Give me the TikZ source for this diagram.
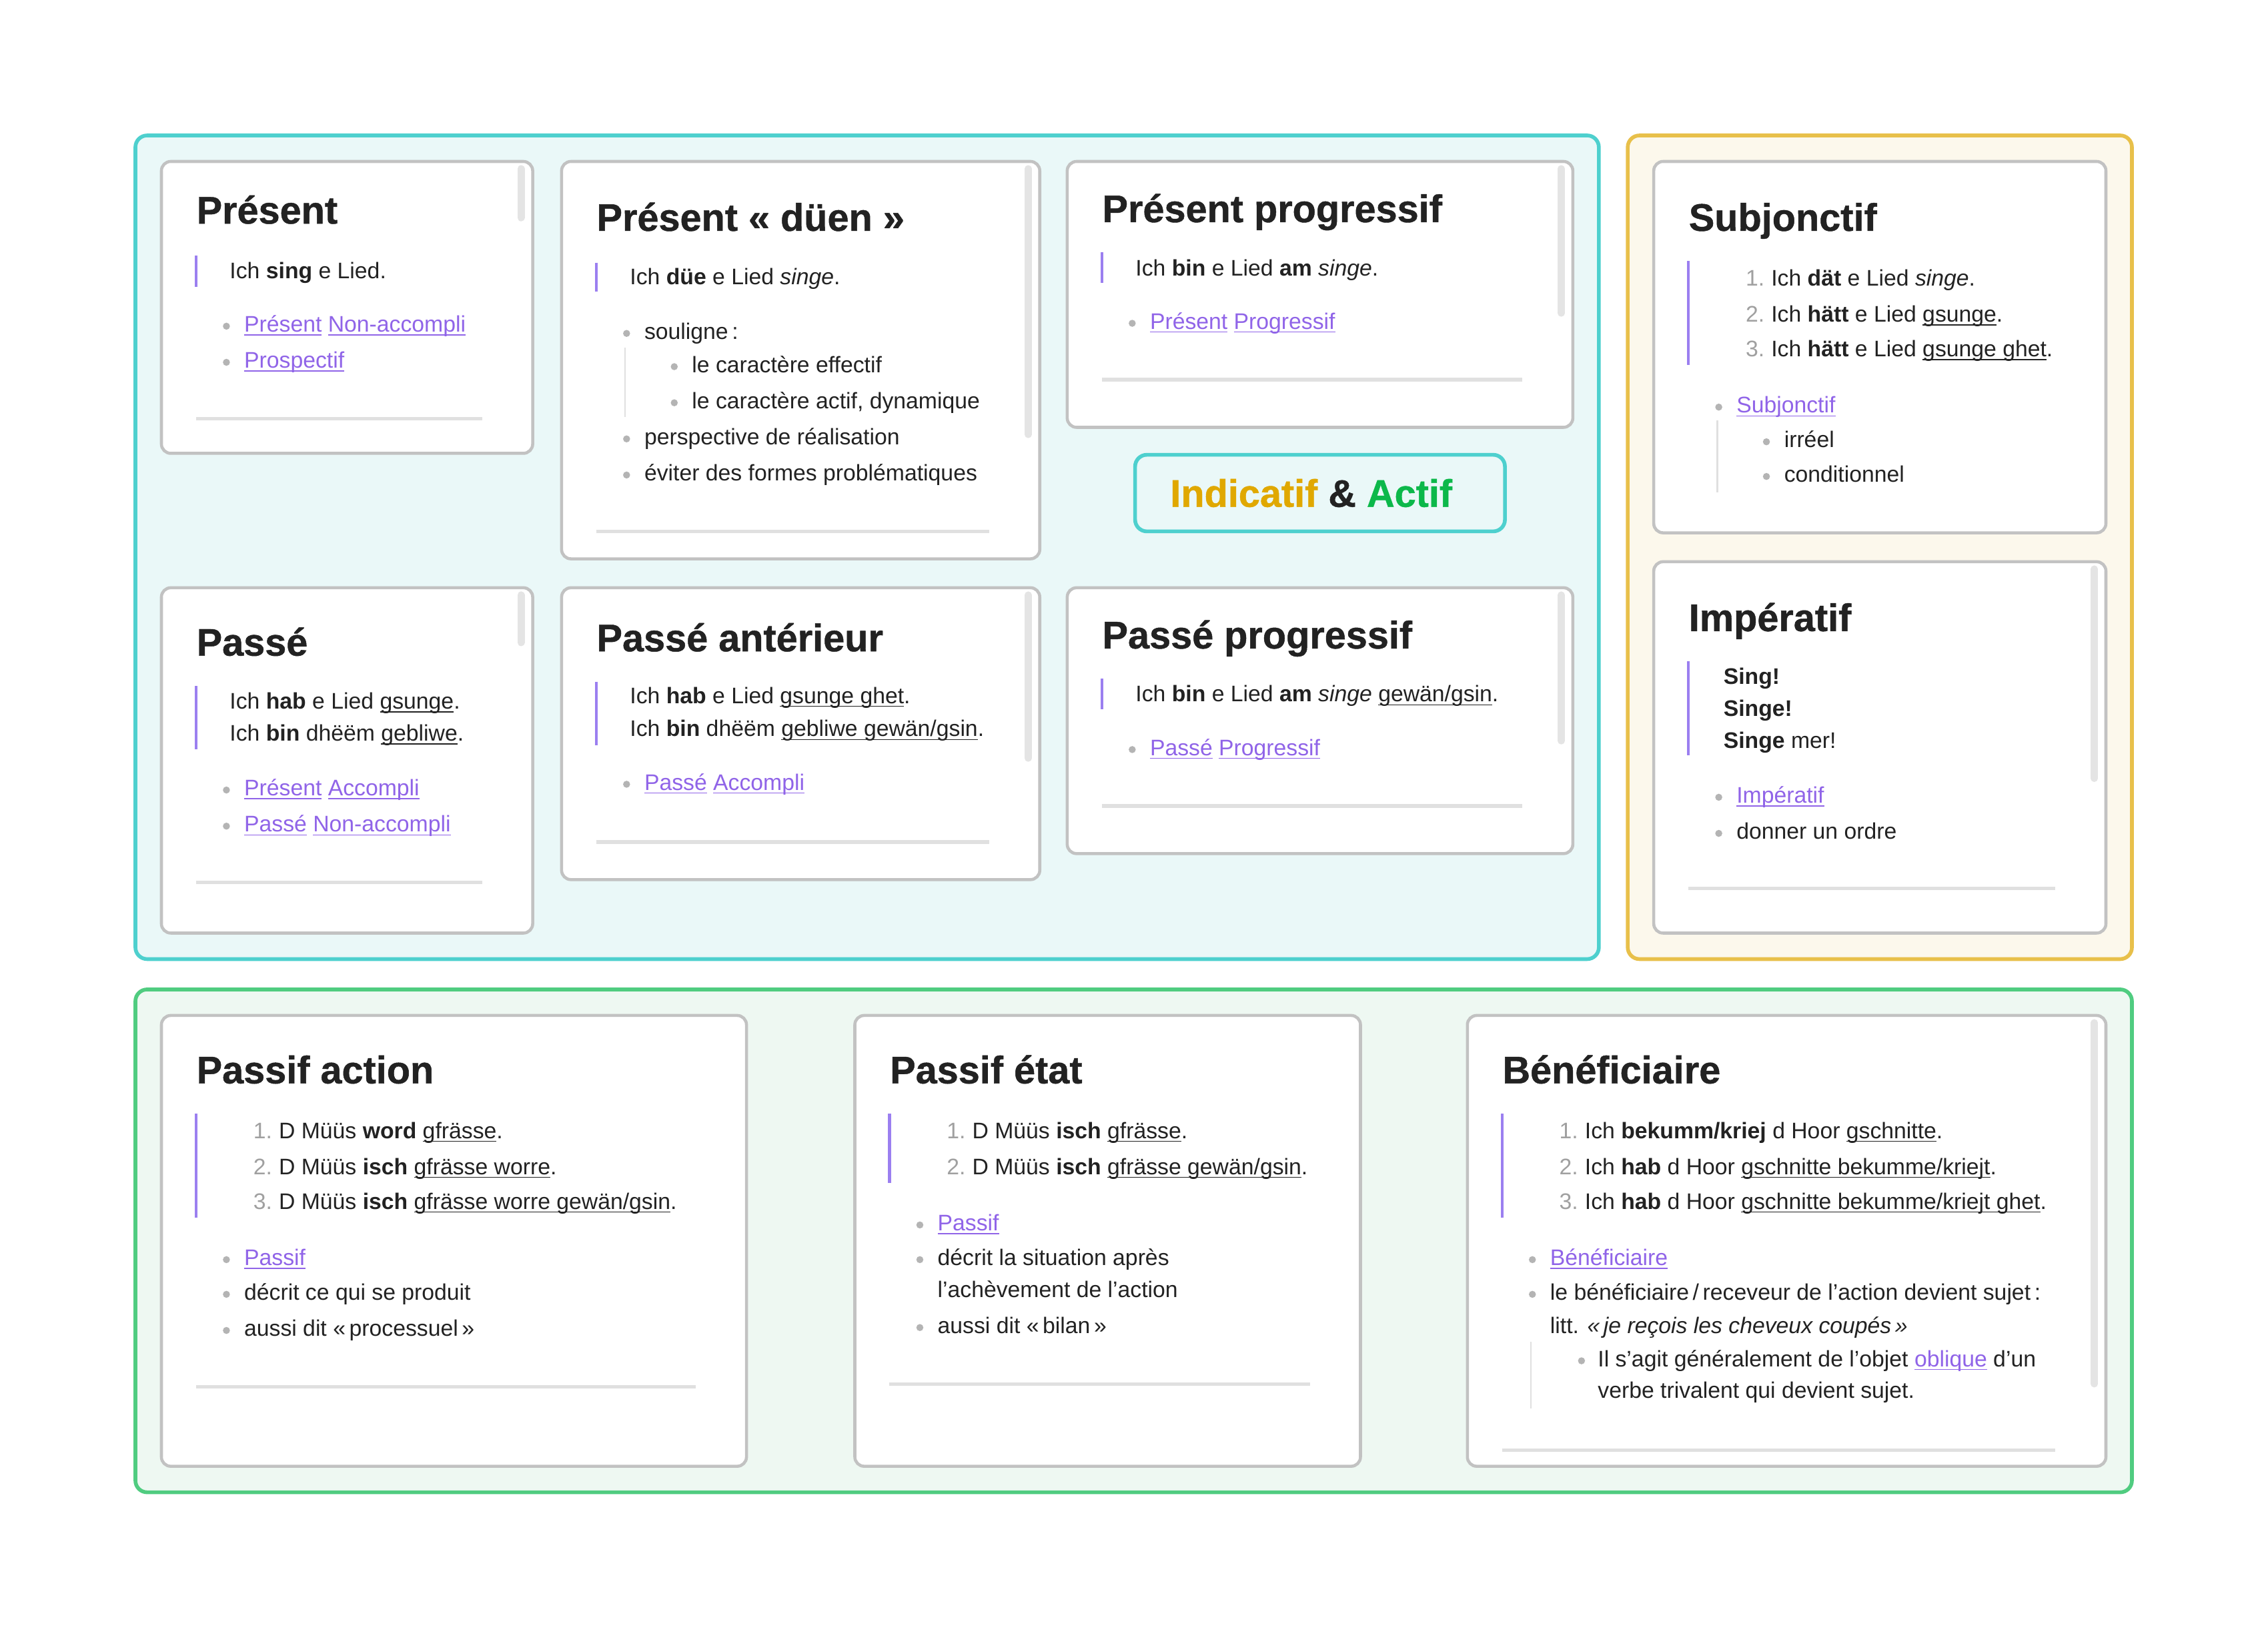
\documentclass[tikz,border=0pt]{standalone}
\usepackage{fontspec}
\setmainfont{Liberation Sans}
\newfontfamily\headfont[BoldFeatures={FakeBold=0.8}]{Liberation Sans}
\usepackage{xcolor}
\usetikzlibrary{positioning}

\definecolor{ink}{HTML}{222222}
\definecolor{cyanline}{HTML}{4ED0CE}
\definecolor{cyanfill}{HTML}{EAF8F8}
\definecolor{yellowline}{HTML}{E8C04A}
\definecolor{yellowfill}{HTML}{FCF8EC}
\definecolor{greenline}{HTML}{50CC80}
\definecolor{greenfill}{HTML}{EEF8F2}
\definecolor{cardgray}{HTML}{C2C2C2}
\definecolor{rulegray}{HTML}{E0E0E0}
\definecolor{scrollgray}{HTML}{E4E4E4}
\definecolor{dotgray}{HTML}{B4B4B4}
\definecolor{numgray}{HTML}{A0A0A0}
\definecolor{linkpurple}{HTML}{9064E8}
\definecolor{barpurple}{HTML}{9B7FF0}
\definecolor{indicgold}{HTML}{E0A800}
\definecolor{actifgreen}{HTML}{0CB84A}

\newcommand\undl[1]{\setbox0\hbox{#1}\rlap{\rule[-1.5pt]{\wd0}{0.45pt}}\box0}
\newcommand\lnk[1]{\textcolor{linkpurple}{\undl{#1}}}

\begin{document}
\begin{tikzpicture}[x=0.021658cm, y=-0.021658cm,
  frame/.style={line width=1.6pt, rounded corners=5pt},
  card/.style={draw=cardgray, line width=1.3pt, fill=white, rounded corners=4pt},
  scrollbar/.style={draw=scrollgray, line width=3pt, line cap=round},
  quotebar/.style={draw=barpurple, line width=1.2pt},
  subbar/.style={draw=rulegray, line width=0.6pt},
  endrule/.style={draw=rulegray, line width=1.5pt},
  head/.style={inner sep=0, anchor=base west, font=\headfont\fontsize{16.4}{19}\selectfont\bfseries, text=ink},
  txt/.style={inner sep=0, anchor=base west, font=\fontsize{9.6}{12}\selectfont, text=ink},
  num/.style={inner sep=0, anchor=base east, font=\fontsize{9.6}{12}\selectfont, text=numgray},
  dot/.style={fill=dotgray},
]
\useasboundingbox (-0.73,-0.73) rectangle (1569.2,1125.9);
\fill[white] (-0.73,-0.73) rectangle (1569.2,1125.9);

% frames
\draw[frame, draw=cyanline, fill=cyanfill] (93,93) rectangle (1106,663);
\draw[frame, draw=yellowline, fill=yellowfill] (1126,93) rectangle (1475,663);
\draw[frame, draw=greenline, fill=greenfill] (93,684) rectangle (1475,1032);

% Present
\begin{scope}[shift={(111,111)}]
  \draw[card] (0,0) rectangle (257,202);
  \draw[scrollbar] (249,5) -- (249,39);
  \node[head] (presT) at (24,43) {Présent};
  \draw[quotebar] (24,65) -- (24,87);
  \node[txt] (presQ) at (47,81) {Ich \textbf{sing} e Lied.};
  \fill[dot] (45,114) circle (1.5pt);
  \node[txt] (presL1) at (57,118) {\lnk{Présent} \lnk{Non-accompli}};
  \fill[dot] (45,139) circle (1.5pt);
  \node[txt] (presL2) at (57,143) {\lnk{Prospectif}};
  \draw[endrule] (24,178) -- (222,178);
\end{scope}

% Present dueen
\begin{scope}[shift={(388,111)}]
  \draw[card] (0,0) rectangle (331,275);
  \draw[scrollbar] (323,5) -- (323,189);
  \node[head] (duenT) at (24,48) {Présent « düen »};
  \draw[quotebar] (24,70) -- (24,90);
  \node[txt] (duenQ) at (47,85) {Ich \textbf{düe} e Lied \textit{singe}.};
  \fill[dot] (45,119) circle (1.5pt);
  \node[txt] (duenL1) at (57,123) {souligne\,:};
  \draw[subbar] (44,129) -- (44,177);
  \fill[dot] (78,142) circle (1.5pt);
  \node[txt] (duenL2) at (90,146) {le caractère effectif};
  \fill[dot] (78,167) circle (1.5pt);
  \node[txt] (duenL3) at (90,171) {le caractère actif, dynamique};
  \fill[dot] (45,192) circle (1.5pt);
  \node[txt] (duenL4) at (57,196) {perspective de réalisation};
  \fill[dot] (45,217) circle (1.5pt);
  \node[txt] (duenL5) at (57,221) {éviter des formes problématiques};
  \draw[endrule] (24,256) -- (296,256);
\end{scope}

% Present progressif
\begin{scope}[shift={(738,111)}]
  \draw[card] (0,0) rectangle (350,184);
  \draw[scrollbar] (342,5) -- (342,105);
  \node[head] (pprogT) at (24,42) {Présent progressif};
  \draw[quotebar] (24,63) -- (24,84);
  \node[txt] (pprogQ) at (47,79) {Ich \textbf{bin} e Lied \textbf{am} \textit{singe}.};
  \fill[dot] (45,112) circle (1.5pt);
  \node[txt] (pprogL1) at (57,116) {\lnk{Présent} \lnk{Progressif}};
  \draw[endrule] (24,151) -- (315,151);
\end{scope}

% Indicatif & Actif
\draw[frame, draw=cyanline, fill=cyanfill] (785,314) rectangle (1041,367);
\node[head] (indic) at (809,350) {\textcolor{indicgold}{Indicatif} \& \textcolor{actifgreen}{Actif}};

% Passe
\begin{scope}[shift={(111,406)}]
  \draw[card] (0,0) rectangle (257,239);
  \draw[scrollbar] (249,5) -- (249,38);
  \node[head] (passT) at (24,47) {Passé};
  \draw[quotebar] (24,68) -- (24,112);
  \node[txt] (passQ1) at (47,84) {Ich \textbf{hab} e Lied \undl{gsunge}.};
  \node[txt] (passQ2) at (47,106) {Ich \textbf{bin} dhëëm \undl{gebliwe}.};
  \fill[dot] (45,140) circle (1.5pt);
  \node[txt] (passL1) at (57,144) {\lnk{Présent} \lnk{Accompli}};
  \fill[dot] (45,165) circle (1.5pt);
  \node[txt] (passL2) at (57,169) {\lnk{Passé} \lnk{Non-accompli}};
  \draw[endrule] (24,204) -- (222,204);
\end{scope}

% Passe anterieur
\begin{scope}[shift={(388,406)}]
  \draw[card] (0,0) rectangle (331,202);
  \draw[scrollbar] (323,5) -- (323,118);
  \node[head] (antT) at (24,44) {Passé antérieur};
  \draw[quotebar] (24,65) -- (24,109);
  \node[txt] (antQ1) at (47,80) {Ich \textbf{hab} e Lied \undl{gsunge ghet}.};
  \node[txt] (antQ2) at (47,103) {Ich \textbf{bin} dhëëm \undl{gebliwe gewän/gsin}.};
  \fill[dot] (45,136) circle (1.5pt);
  \node[txt] (antL1) at (57,140) {\lnk{Passé} \lnk{Accompli}};
  \draw[endrule] (24,176) -- (296,176);
\end{scope}

% Passe progressif
\begin{scope}[shift={(738,406)}]
  \draw[card] (0,0) rectangle (350,184);
  \draw[scrollbar] (342,5) -- (342,106);
  \node[head] (paprogT) at (24,42) {Passé progressif};
  \draw[quotebar] (24,63) -- (24,84);
  \node[txt] (paprogQ) at (47,79) {Ich \textbf{bin} e Lied \textbf{am} \textit{singe} \undl{gewän/gsin}.};
  \fill[dot] (45,112) circle (1.5pt);
  \node[txt] (paprogL1) at (57,116) {\lnk{Passé} \lnk{Progressif}};
  \draw[endrule] (24,151) -- (315,151);
\end{scope}

% Subjonctif
\begin{scope}[shift={(1144,111)}]
  \draw[card] (0,0) rectangle (313,257);
  \node[head] (subjT) at (24,48) {Subjonctif};
  \draw[quotebar] (24,69) -- (24,141);
  \node[num] (subjN1) at (77,86) {1.};
  \node[txt] (subjQ1) at (81,86) {Ich \textbf{dät} e Lied \textit{singe}.};
  \node[num] (subjN2) at (77,111) {2.};
  \node[txt] (subjQ2) at (81,111) {Ich \textbf{hätt} e Lied \undl{gsunge}.};
  \node[num] (subjN3) at (77,135) {3.};
  \node[txt] (subjQ3) at (81,135) {Ich \textbf{hätt} e Lied \undl{gsunge ghet}.};
  \fill[dot] (45,170) circle (1.5pt);
  \node[txt] (subjL1) at (57,174) {\lnk{Subjonctif}};
  \draw[subbar] (44,179) -- (44,229);
  \fill[dot] (78,194) circle (1.5pt);
  \node[txt] (subjL2) at (90,198) {irréel};
  \fill[dot] (78,218) circle (1.5pt);
  \node[txt] (subjL3) at (90,222) {conditionnel};
\end{scope}

% Imperatif
\begin{scope}[shift={(1144,388)}]
  \draw[card] (0,0) rectangle (313,257);
  \draw[scrollbar] (305,5) -- (305,150);
  \node[head] (impT) at (24,48) {Impératif};
  \draw[quotebar] (24,69) -- (24,134);
  \node[txt] (impQ1) at (48,85) {\textbf{Sing!}};
  \node[txt] (impQ2) at (48,107) {\textbf{Singe!}};
  \node[txt] (impQ3) at (48,129) {\textbf{Singe} mer!};
  \fill[dot] (45,163) circle (1.5pt);
  \node[txt] (impL1) at (57,167) {\lnk{Impératif}};
  \fill[dot] (45,188) circle (1.5pt);
  \node[txt] (impL2) at (57,192) {donner un ordre};
  \draw[endrule] (24,226) -- (278,226);
\end{scope}

% Passif action
\begin{scope}[shift={(111,702)}]
  \draw[card] (0,0) rectangle (405,312);
  \node[head] (pactT) at (24,47) {Passif action};
  \draw[quotebar] (24,68) -- (24,140);
  \node[num] (pactN1) at (77,85) {1.};
  \node[txt] (pactQ1) at (81,85) {D Müüs \textbf{word} \undl{gfrässe}.};
  \node[num] (pactN2) at (77,110) {2.};
  \node[txt] (pactQ2) at (81,110) {D Müüs \textbf{isch} \undl{gfrässe worre}.};
  \node[num] (pactN3) at (77,134) {3.};
  \node[txt] (pactQ3) at (81,134) {D Müüs \textbf{isch} \undl{gfrässe worre gewän/gsin}.};
  \fill[dot] (45,169) circle (1.5pt);
  \node[txt] (pactL1) at (57,173) {\lnk{Passif}};
  \fill[dot] (45,193) circle (1.5pt);
  \node[txt] (pactL2) at (57,197) {décrit ce qui se produit};
  \fill[dot] (45,218) circle (1.5pt);
  \node[txt] (pactL3) at (57,222) {aussi dit «\,processuel\,»};
  \draw[endrule] (24,257) -- (370,257);
\end{scope}

% Passif etat
\begin{scope}[shift={(591,702)}]
  \draw[card] (0,0) rectangle (350,312);
  \node[head] (petatT) at (24,47) {Passif état};
  \draw[quotebar] (24,68) -- (24,116);
  \node[num] (petatN1) at (77,85) {1.};
  \node[txt] (petatQ1) at (81,85) {D Müüs \textbf{isch} \undl{gfrässe}.};
  \node[num] (petatN2) at (77,110) {2.};
  \node[txt] (petatQ2) at (81,110) {D Müüs \textbf{isch} \undl{gfrässe gewän/gsin}.};
  \fill[dot] (45,145) circle (1.5pt);
  \node[txt] (petatL1) at (57,149) {\lnk{Passif}};
  \fill[dot] (45,169) circle (1.5pt);
  \node[txt] (petatL2) at (57,173) {décrit la situation après};
  \node[txt] (petatL2b) at (57,195) {l’achèvement de l’action};
  \fill[dot] (45,216) circle (1.5pt);
  \node[txt] (petatL3) at (57,220) {aussi dit «\,bilan\,»};
  \draw[endrule] (24,255) -- (315,255);
\end{scope}

% Beneficiaire
\begin{scope}[shift={(1015,702)}]
  \draw[card] (0,0) rectangle (442,312);
  \draw[scrollbar] (434,5) -- (434,255);
  \node[head] (benT) at (24,47) {Bénéficiaire};
  \draw[quotebar] (24,68) -- (24,140);
  \node[num] (benN1) at (77,85) {1.};
  \node[txt] (benQ1) at (81,85) {Ich \textbf{bekumm/kriej} d Hoor \undl{gschnitte}.};
  \node[num] (benN2) at (77,110) {2.};
  \node[txt] (benQ2) at (81,110) {Ich \textbf{hab} d Hoor \undl{gschnitte bekumme/kriejt}.};
  \node[num] (benN3) at (77,134) {3.};
  \node[txt] (benQ3) at (81,134) {Ich \textbf{hab} d Hoor \undl{gschnitte bekumme/kriejt ghet}.};
  \fill[dot] (45,169) circle (1.5pt);
  \node[txt] (benL1) at (57,173) {\lnk{Bénéficiaire}};
  \fill[dot] (45,193) circle (1.5pt);
  \node[txt] (benL2) at (57,197) {le bénéficiaire\,/\,receveur de l’action devient sujet\,:};
  \node[txt] (benL2b) at (57,220) {litt. \textit{«\,je reçois les cheveux coupés\,»}};
  \draw[subbar] (44,226) -- (44,272);
  \fill[dot] (79,239) circle (1.5pt);
  \node[txt] (benL3) at (90,243) {Il s’agit généralement de l’objet \lnk{oblique} d’un};
  \node[txt] (benL3b) at (90,265) {verbe trivalent qui devient sujet.};
  \draw[endrule] (24,301) -- (407,301);
\end{scope}

\end{tikzpicture}
\end{document}
